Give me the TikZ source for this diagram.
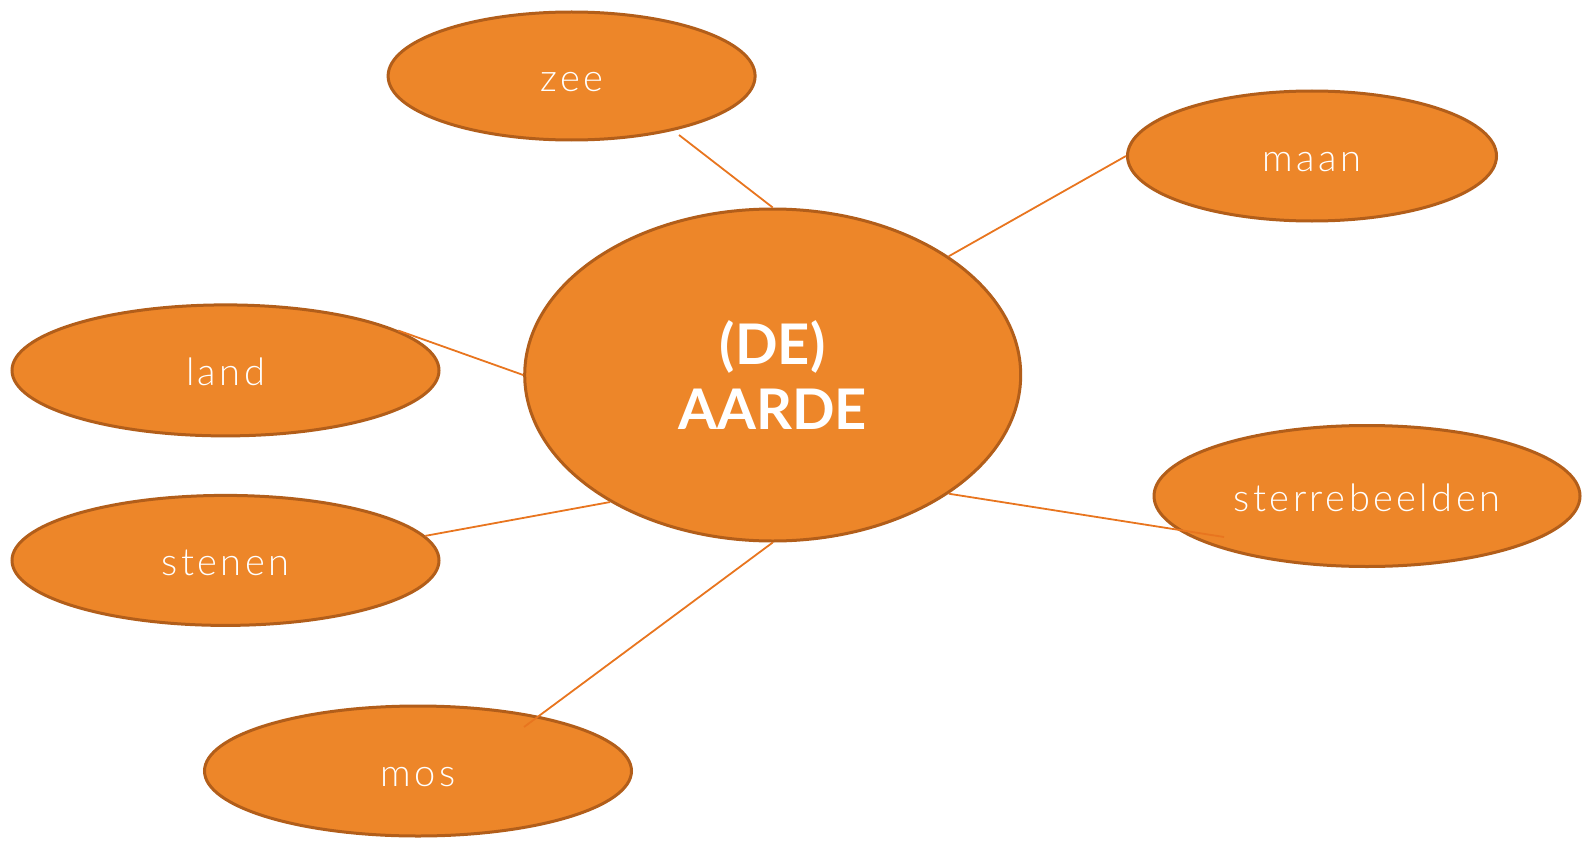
\documentclass[tikz,border=0pt]{standalone}
\usepackage{fontspec}
\setmainfont{Lato}
\newfontfamily\lite[LetterSpace=9]{Lato Light}
\usetikzlibrary{shapes.geometric}

\definecolor{oranje}{HTML}{ED8629}
\definecolor{rand}{HTML}{B25E1A}
\definecolor{lijn}{HTML}{E8751F}

\tikzset{
	woord/.style={ellipse, draw=rand, line width=1.5pt, fill=oranje, text=white, inner sep=0pt,
		text height=15pt, text depth=0pt, font=\lite\fontsize{19}{22}\selectfont},
	tak/.style={draw=lijn, line width=0.9pt}
}

\begin{document}
\begin{tikzpicture}[x=0.5pt, y=-0.5pt]
	\useasboundingbox (0,0) rectangle (1589,840);
	% midden
	\node[woord, minimum width=248pt, minimum height=166pt, align=center, text height=, text depth=,
		font=\bfseries\fontsize{28}{32.5}\selectfont] (aarde) at (772.7,375) {(DE)\\AARDE};
	% takken
	\node[woord, minimum width=183.5pt, minimum height=64pt] (zee) at (571.6,76) {zee};
	\node[woord, minimum width=184.5pt, minimum height=65pt] (maan) at (1312,156) {maan};
	\node[woord, minimum width=213.5pt, minimum height=65.5pt] (land) at (225.5,370.4) {land};
	\node[woord, minimum width=213.5pt, minimum height=65pt] (stenen) at (225.5,560.4) {stenen};
	\node[woord, minimum width=213.5pt, minimum height=65pt] (mos) at (418,771) {mos};
	\node[woord, minimum width=213pt, minimum height=70.5pt] (sterren) at (1367,496) {sterrebeelden};
	\coordinate (zeepunt) at (679,135);
	\coordinate (mospunt) at (524,727);
	\coordinate (sterpunt) at (1224,537);
	% verbindingen
	\draw[tak] (aarde.north) -- (zeepunt);
	\draw[tak] (aarde.34) -- (maan.west);
	\draw[tak] (aarde.west) -- (land.13);
	\draw[tak] (aarde.218) -- (stenen.7);
	\draw[tak] (aarde.south) -- (mospunt);
	\draw[tak] (aarde.-34) -- (sterpunt);
\end{tikzpicture}
\end{document}
